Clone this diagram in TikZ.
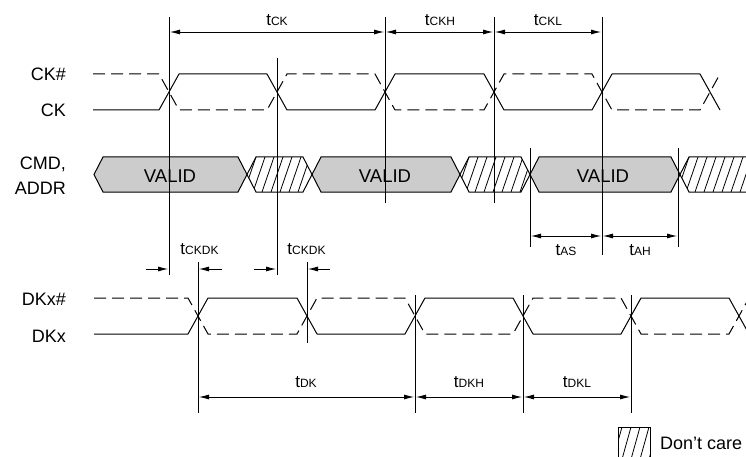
\documentclass[tikz,border=0pt]{standalone}
\usepackage{fontspec}
\setmainfont{Liberation Sans}
\usetikzlibrary{arrows.meta}
\newcommand{\tsub}[1]{t{\fontsize{12}{12}\selectfont #1}}

\begin{document}
\begin{tikzpicture}[x=1pt, y=-1pt,
    sig/.style={line width=1pt, line join=round},
    dsig/.style={line width=1pt, dash pattern=on 12pt off 6pt},
    guide/.style={line width=0.9pt},
    dim/.style={{Latex[length=10pt,width=5pt]}-{Latex[length=10pt,width=5pt]}, line width=0.8pt},
    onearrow/.style={-{Latex[length=10pt,width=5pt]}, line width=0.8pt},
    lbl/.style={inner sep=0pt, font=\fontsize{18}{20}\selectfont},
    tlbl/.style={inner sep=0pt, anchor=base, font=\fontsize{17}{18}\selectfont},
    valid/.style={draw, line width=1pt, fill=gray!40},
    dcare/.style={draw, line width=1pt}]
  \clip (0,0) rectangle (746,457);
  % signal names
  \node[lbl, anchor=base east] (cknot) at (66,81) {CK\#};
  \node[lbl, anchor=base east] (ck) at (66,117) {CK};
  \node[lbl, anchor=base east] (cmd) at (66,169) {CMD,};
  \node[lbl, anchor=base east] (addr) at (66,194) {ADDR};
  \node[lbl, anchor=base east] (dknot) at (66,305) {DKx\#};
  \node[lbl, anchor=base east] (dk) at (66,342) {DKx};
  % CK, CK#
  \draw[dsig] (93,74) -- (159,74) -- (179,110) -- (267,110) -- (287,74) -- (375,74) -- (395,110)
    -- (484,110) -- (504,74) -- (592,74) -- (612,110) -- (700,110) -- (720,74);
  \draw[sig] (93,110) -- (159,110) -- (179,74) -- (267,74) -- (287,110) -- (375,110) -- (395,74)
    -- (484,74) -- (504,110) -- (592,110) -- (612,74) -- (700,74) -- (720,110);
  % DKx, DKx#
  \draw[dsig] (94,298) -- (188,298) -- (208,334) -- (297,334) -- (317,298) -- (405,298) -- (425,334)
    -- (513,334) -- (533,298) -- (621,298) -- (641,334) -- (729,334) -- (749,298);
  \draw[sig] (94,334) -- (188,334) -- (208,298) -- (297,298) -- (317,334) -- (405,334) -- (425,298)
    -- (513,298) -- (533,334) -- (621,334) -- (641,298) -- (729,298) -- (749,334);
  % CMD, ADDR
  \foreach \a/\b in {94/247, 312/460, 530/680}
    \draw[valid] (\a,174.5) -- (\a+9,157) -- (\b-9,157) -- (\b,174.5) -- (\b-9,192) -- (\a+9,192) -- cycle;
  \node[tlbl, font=\fontsize{18.5}{20}\selectfont] (valid1) at (170,182.5) {VALID};
  \node[tlbl, font=\fontsize{18.5}{20}\selectfont] (valid2) at (385,182.5) {VALID};
  \node[tlbl, font=\fontsize{18.5}{20}\selectfont] (valid3) at (603,182.5) {VALID};
  \foreach \a/\b in {247/312, 460/530, 680/759} {
    \begin{scope}
      \clip (\a,174.5) -- (\a+9,157) -- (\b-9,157) -- (\b,174.5) -- (\b-9,192) -- (\a+9,192) -- cycle;
      \foreach \h in {0,9,...,90}
        \draw[line width=0.8pt] (\a+\h-12,192) -- (\a+\h,157);
    \end{scope}
    \draw[dcare] (\a,174.5) -- (\a+9,157) -- (\b-9,157) -- (\b,174.5) -- (\b-9,192) -- (\a+9,192) -- cycle;
  }
  % guide lines
  \draw[guide] (169,17) -- (169,275);
  \draw[guide] (277,58) -- (277,275);
  \draw[guide] (385,17) -- (385,203);
  \draw[guide] (494,17) -- (494,203);
  \draw[guide] (602,17) -- (602,255);
  \draw[guide] (530,148) -- (530,247);
  \draw[guide] (678,148) -- (678,247);
  \draw[guide] (198,262) -- (198,413);
  \draw[guide] (307,262) -- (307,343);
  \draw[guide] (415,295) -- (415,413);
  \draw[guide] (523,295) -- (523,413);
  \draw[guide] (631,295) -- (631,413);
  % timing
  \draw[dim] (170,32) -- (384,32);
  \node[tlbl] (tck) at (277,26) {\tsub{CK}};
  \draw[dim] (386,32) -- (493,32);
  \node[tlbl] (tckh) at (440,26) {\tsub{CKH}};
  \draw[dim] (495,32) -- (601,32);
  \node[tlbl] (tckl) at (548,26) {\tsub{CKL}};
  \draw[dim] (531,236) -- (601,236);
  \node[tlbl] (tas) at (566,255) {\tsub{AS}};
  \draw[dim] (603,236) -- (677,236);
  \node[tlbl] (tah) at (640,255) {\tsub{AH}};
  \draw[onearrow] (146,269) -- (168,269);
  \draw[onearrow] (222,269) -- (199,269);
  \node[tlbl] (tckdk1) at (199.5,254) {\tsub{CKDK}};
  \draw[onearrow] (254,269) -- (276,269);
  \draw[onearrow] (330,269) -- (308,269);
  \node[tlbl] (tckdk2) at (306.5,254) {\tsub{CKDK}};
  \draw[dim] (199,397) -- (414,397);
  \node[tlbl] (tdk) at (306,387) {\tsub{DK}};
  \draw[dim] (416,397) -- (522,397);
  \node[tlbl] (tdkh) at (469,387) {\tsub{DKH}};
  \draw[dim] (524,397) -- (630,397);
  \node[tlbl] (tdkl) at (577,387) {\tsub{DKL}};
  % legend
  \begin{scope}
    \clip (618,427) rectangle (650,470);
    \foreach \h in {0,9,...,45}
      \draw[line width=0.8pt] (610+\h,470) -- (622+\h,427);
  \end{scope}
  \draw[line width=1pt] (618,427) rectangle (650,470);
  \node[lbl, anchor=base west] (dontcare) at (660,449) {Don’t care};
\end{tikzpicture}
\end{document}
